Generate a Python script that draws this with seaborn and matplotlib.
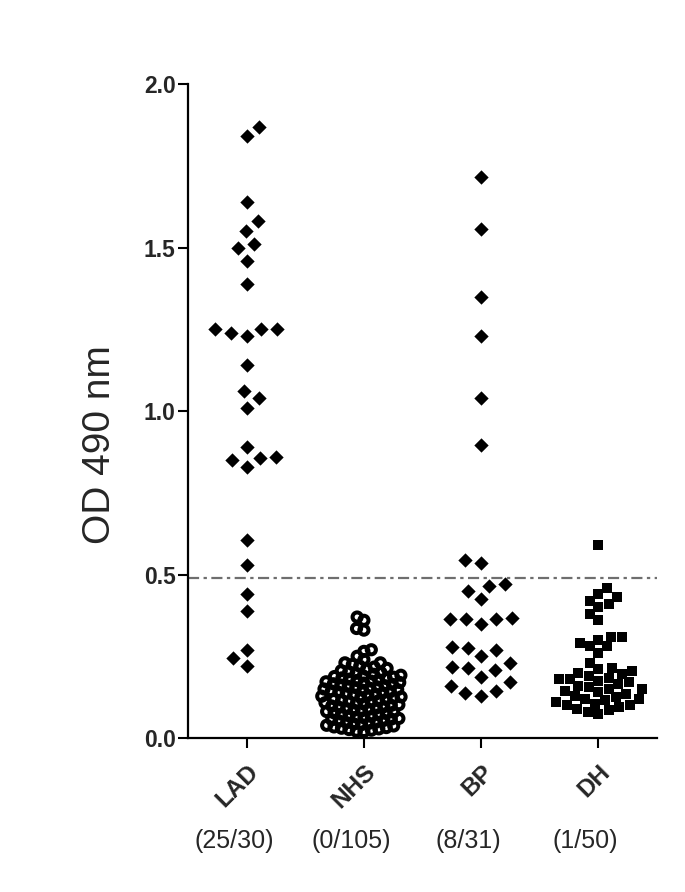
import warnings
import pandas as pd
import matplotlib
matplotlib.use("Agg")
import matplotlib.pyplot as plt
import seaborn as sns

warnings.filterwarnings("ignore")

# Groups on the x axis and the positive/total counts shown under them
groups = ["LAD", "NHS", "BP", "DH"]
counts = ["(25/30)", "(0/105)", "(8/31)", "(1/50)"]
cutoff = 0.49

# OD 490 nm values per group
lad = [1.87, 1.84, 1.64, 1.58, 1.55, 1.51, 1.50, 1.46, 1.39,
       1.25, 1.24, 1.23, 1.25, 1.25, 1.14, 1.06, 1.04, 1.01,
       0.89, 0.855, 0.83, 0.85, 0.86, 0.605, 0.53,
       0.44, 0.39, 0.27, 0.245, 0.22]

nhs = [0.37, 0.36, 0.335, 0.33, 0.27, 0.265, 0.25, 0.24, 0.23, 0.23,
       0.020, 0.021, 0.024, 0.026, 0.028, 0.030, 0.032, 0.034, 0.037, 0.039,
       0.041, 0.043, 0.045, 0.047, 0.049, 0.052, 0.054, 0.056, 0.058, 0.060,
       0.062, 0.064, 0.066, 0.068, 0.071, 0.073, 0.075, 0.077, 0.079, 0.081,
       0.083, 0.085, 0.088, 0.090, 0.092, 0.094, 0.096, 0.098, 0.100, 0.102,
       0.104, 0.106, 0.108, 0.110, 0.112, 0.114, 0.116, 0.118, 0.120, 0.122,
       0.124, 0.126, 0.128, 0.130, 0.132, 0.134, 0.136, 0.138, 0.140, 0.142,
       0.144, 0.146, 0.148, 0.150, 0.152, 0.154, 0.156, 0.158, 0.160, 0.162,
       0.164, 0.166, 0.168, 0.170, 0.172, 0.174, 0.176, 0.178, 0.180, 0.182,
       0.184, 0.186, 0.188, 0.190, 0.192, 0.195, 0.198, 0.200, 0.203, 0.206,
       0.210, 0.213, 0.217, 0.220, 0.225]

bp = [1.716, 1.557, 1.35, 1.228, 1.04, 0.895,
      0.543, 0.535, 0.45, 0.47, 0.465, 0.425,
      0.367, 0.364, 0.35, 0.364, 0.364,
      0.27, 0.278, 0.275, 0.25,
      0.214, 0.228, 0.208, 0.217,
      0.186, 0.17, 0.144, 0.159, 0.128, 0.137]

dh = [0.59, 0.46, 0.44, 0.43, 0.42, 0.41, 0.40, 0.38, 0.36, 0.31,
      0.31, 0.30, 0.29, 0.28, 0.28, 0.26, 0.23,
      0.215, 0.21, 0.205, 0.20, 0.195, 0.19, 0.185, 0.18, 0.175, 0.17,
      0.165, 0.16, 0.155, 0.15, 0.145, 0.14, 0.135, 0.13, 0.125, 0.12,
      0.115, 0.11, 0.105, 0.10, 0.095, 0.09, 0.085, 0.08, 0.075, 0.10,
      0.12, 0.15, 0.18]

df = pd.concat([
    pd.DataFrame({"group": g, "od": v})
    for g, v in zip(groups, [lad, nhs, bp, dh])
], ignore_index=True)

sns.set_style("ticks")
plt.rcParams["font.family"] = ["Liberation Sans", "DejaVu Sans"]

fig = plt.figure(figsize=(6.85, 8.92), dpi=100)
ax = fig.add_axes([0.2745, 0.1726, 0.6847, 0.7332])

# Dash-dot cutoff line
ax.axhline(cutoff, color="#6e6e6e", lw=1.6, ls=(0, (5, 2, 1.5, 2)), zorder=1)

# marker style per group: (marker, spacing used for the swarm layout,
# shown size, face, edge width). The original packs points more loosely
# (diamonds) or overlaps them (rings, squares), so layout != shown size.
styles = {
    "LAD": ("D", 11.0, 7.3, "black", 0),
    "NHS": ("o", 5.2, 6.6, "none", 2.9),
    "BP": ("D", 11.0, 7.3, "black", 0),
    "DH": ("s", 7.5, 7.8, "black", 0),
}

swarms = {}
for g in groups:
    marker, layout, _, _, _ = styles[g]
    sns.swarmplot(data=df[df.group == g], x="group", y="od", order=groups,
                  marker=marker, size=layout, color="black", linewidth=0,
                  ax=ax)
    n = (df.group == g).sum()
    swarms[g] = [c for c in ax.collections if len(c.get_offsets()) == n][-1]

ax.set_xlim(-0.5, 3.5)
ax.set_ylim(0, 2.0)
ax.set_yticks([0.0, 0.5, 1.0, 1.5, 2.0])
ax.set_yticklabels(["0.0", "0.5", "1.0", "1.5", "2.0"],
                   fontsize=16.5, fontweight="bold")
ax.set_xticks(range(len(groups)))
ax.set_xticklabels(groups, fontsize=17.5, fontweight="bold", rotation=45,
                   ha="right", rotation_mode="anchor")
ax.tick_params(axis="both", length=7, width=1.5, color="black")
ax.tick_params(axis="x", pad=9)
ax.tick_params(axis="y", pad=2)

ax.set_xlabel("")
ax.set_ylabel("OD 490 nm", fontsize=28)
ax.yaxis.set_label_coords(-0.15, 0.448)

for side in ["top", "right"]:
    ax.spines[side].set_visible(False)
for side in ["left", "bottom"]:
    ax.spines[side].set_linewidth(1.6)
    ax.spines[side].set_color("black")

# counts under each group
for i, c in enumerate(counts):
    ax.text(i - 0.11, -0.1575, c, transform=ax.get_xaxis_transform(),
            ha="center", va="center", fontsize=18)

# run seaborn's swarm layout once, then redraw each group at its shown size
fig.canvas.draw()
for g in groups:
    marker, _, shown, face, lw = styles[g]
    pts = swarms[g]
    xy = pts.get_offsets().copy()
    pts.remove()
    if face == "none":
        ax.scatter(xy[:, 0], xy[:, 1], s=shown ** 2, marker=marker,
                   facecolors="none", edgecolors="black", linewidths=lw,
                   zorder=2)
    else:
        ax.scatter(xy[:, 0], xy[:, 1], s=shown ** 2, marker=marker,
                   color=face, linewidths=0, zorder=2)

fig.savefig("out.png", dpi=100)
plt.close(fig)
